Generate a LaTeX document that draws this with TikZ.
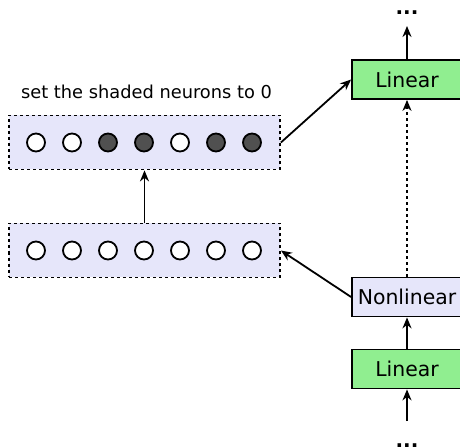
\documentclass[tikz,border=0pt]{standalone}
\usepackage{fontspec}
\setmainfont{DejaVu Sans}
\usetikzlibrary{arrows.meta}

\definecolor{layerpurple}{RGB}{230,230,250}
\definecolor{layergreen}{RGB}{144,238,144}
\definecolor{neurondark}{RGB}{80,80,80}

\tikzset{
	arr/.style={-{Stealth[length=5.5pt,width=4.5pt]}, line width=0.9pt},
	dotline/.style={dash pattern=on 1.5pt off 1.5pt},
	layerbox/.style={draw, fill=layerpurple, dotline, line width=0.9pt,
		minimum width=135.5pt, minimum height=27pt, inner sep=0pt},
	block/.style={draw, line width=0.9pt, minimum width=55pt,
		minimum height=19.5pt, inner sep=0pt, font=\fontsize{10.2}{12}\selectfont},
	neuron/.style={circle, draw, line width=0.9pt, fill=white,
		minimum size=9pt, inner sep=0pt},
	off/.style={fill=neurondark}
}

\begin{document}
\begin{tikzpicture}[x=0.5pt,y=-0.5pt]
		\useasboundingbox (0,0) rectangle (460,448);
		% right column
		\node[block, fill=layergreen] (lin2) at (407,79.5) {Linear};
		\node[block, fill=layerpurple] (nonlin) at (407,297) {Nonlinear};
		\node[block, fill=layergreen] (lin1) at (407,369) {Linear};
		\node[font=\bfseries, anchor=base] (topdots) at (407,15) {...};
		\node[font=\bfseries, anchor=base] (botdots) at (407,447) {...};
		\coordinate (topend) at (407,26);
		\coordinate (botstart) at (407,421);
		% left column
		\node[layerbox] (hidden) at (144.5,250.5) {};
		\node[layerbox] (drop) at (144.5,142.5) {};
		\node[font=\fontsize{8.9}{11}\selectfont, anchor=south east] (note)
			at (279,106) {set the shaded neurons to 0};
		\foreach \i in {1,...,7}{
			\node[neuron] (h\i) at (36*\i,250.5) {};
		}
		\foreach \i/\s in {1/,2/,3/off,4/off,5/,6/off,7/off}{
			\node[neuron,\s] (d\i) at (36*\i,142.5) {};
		}
		% connectors
		\draw[arr] (botstart) -- (lin1);
		\draw[arr] (lin1) -- (nonlin);
		\draw[arr, dotline] (nonlin) -- (lin2);
		\draw[arr] (lin2) -- (topend);
		\draw[arr] (nonlin.west) -- (hidden.east);
		\draw[arr] (hidden) -- (drop);
		\draw[arr] (drop.east) -- (lin2.west);
	\end{tikzpicture}
\end{document}
